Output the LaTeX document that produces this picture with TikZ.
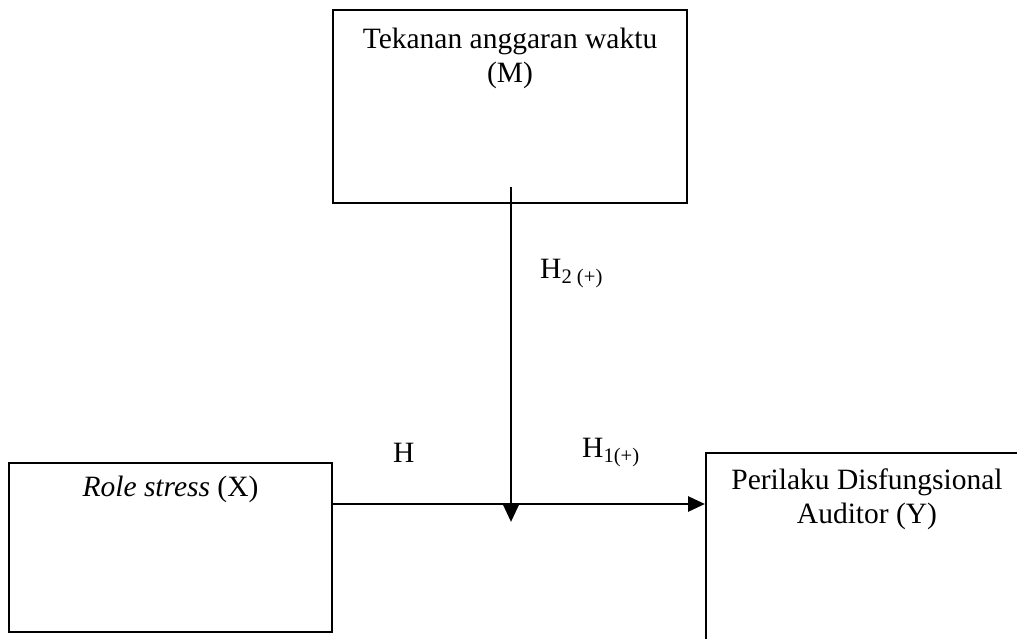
\documentclass[tikz,border=0pt]{standalone}
\usepackage{fontspec}
\setmainfont{Liberation Serif}
\usetikzlibrary{arrows.meta,calc}
\begin{document}
\begin{tikzpicture}[x=1pt,y=-1pt,
  varbox/.style={draw,line width=2pt,inner sep=0pt},
  lbl/.style={inner sep=0pt,font=\fontsize{29.5}{34}\selectfont,align=center},
  conn/.style={line width=2.8pt,-{Triangle[length=17pt,width=15pt]}}]
\clip (0,0) rectangle (1017,639);
\fill[white] (0,0) rectangle (1017,639);
% boxes
\node[varbox,minimum width=354pt,minimum height=193pt] (M) at (510,106.5) {};
\node[varbox,minimum width=323pt,minimum height=169pt] (X) at (170.5,547.5) {};
\node[varbox,minimum width=322pt,minimum height=227pt] (Y) at (867,566.5) {};
% texts
\node[lbl] (Mt) at (510,58) {Tekanan anggaran waktu\\(M)};
\node[lbl] (Xt) at (170.5,489) {\textit{Role stress} (X)};
\node[lbl] (Yt) at (867,499) {Perilaku Disfungsional\\Auditor (Y)};
% connectors
\coordinate (vs) at (511,187);
\coordinate (ve) at (511,522);
\coordinate (hy) at (0,504);
\draw[conn] (vs) -- (ve);
\draw[conn] (X.east |- hy) -- (Y.west |- hy);
% labels
\node[lbl,anchor=base west] (H2) at (540,278) {H\textsubscript{2 (+)}};
\node[lbl,anchor=base west] (H) at (393,462) {H};
\node[lbl,anchor=base west] (H1) at (582,457) {H\textsubscript{1(+)}};
\end{tikzpicture}
\end{document}
